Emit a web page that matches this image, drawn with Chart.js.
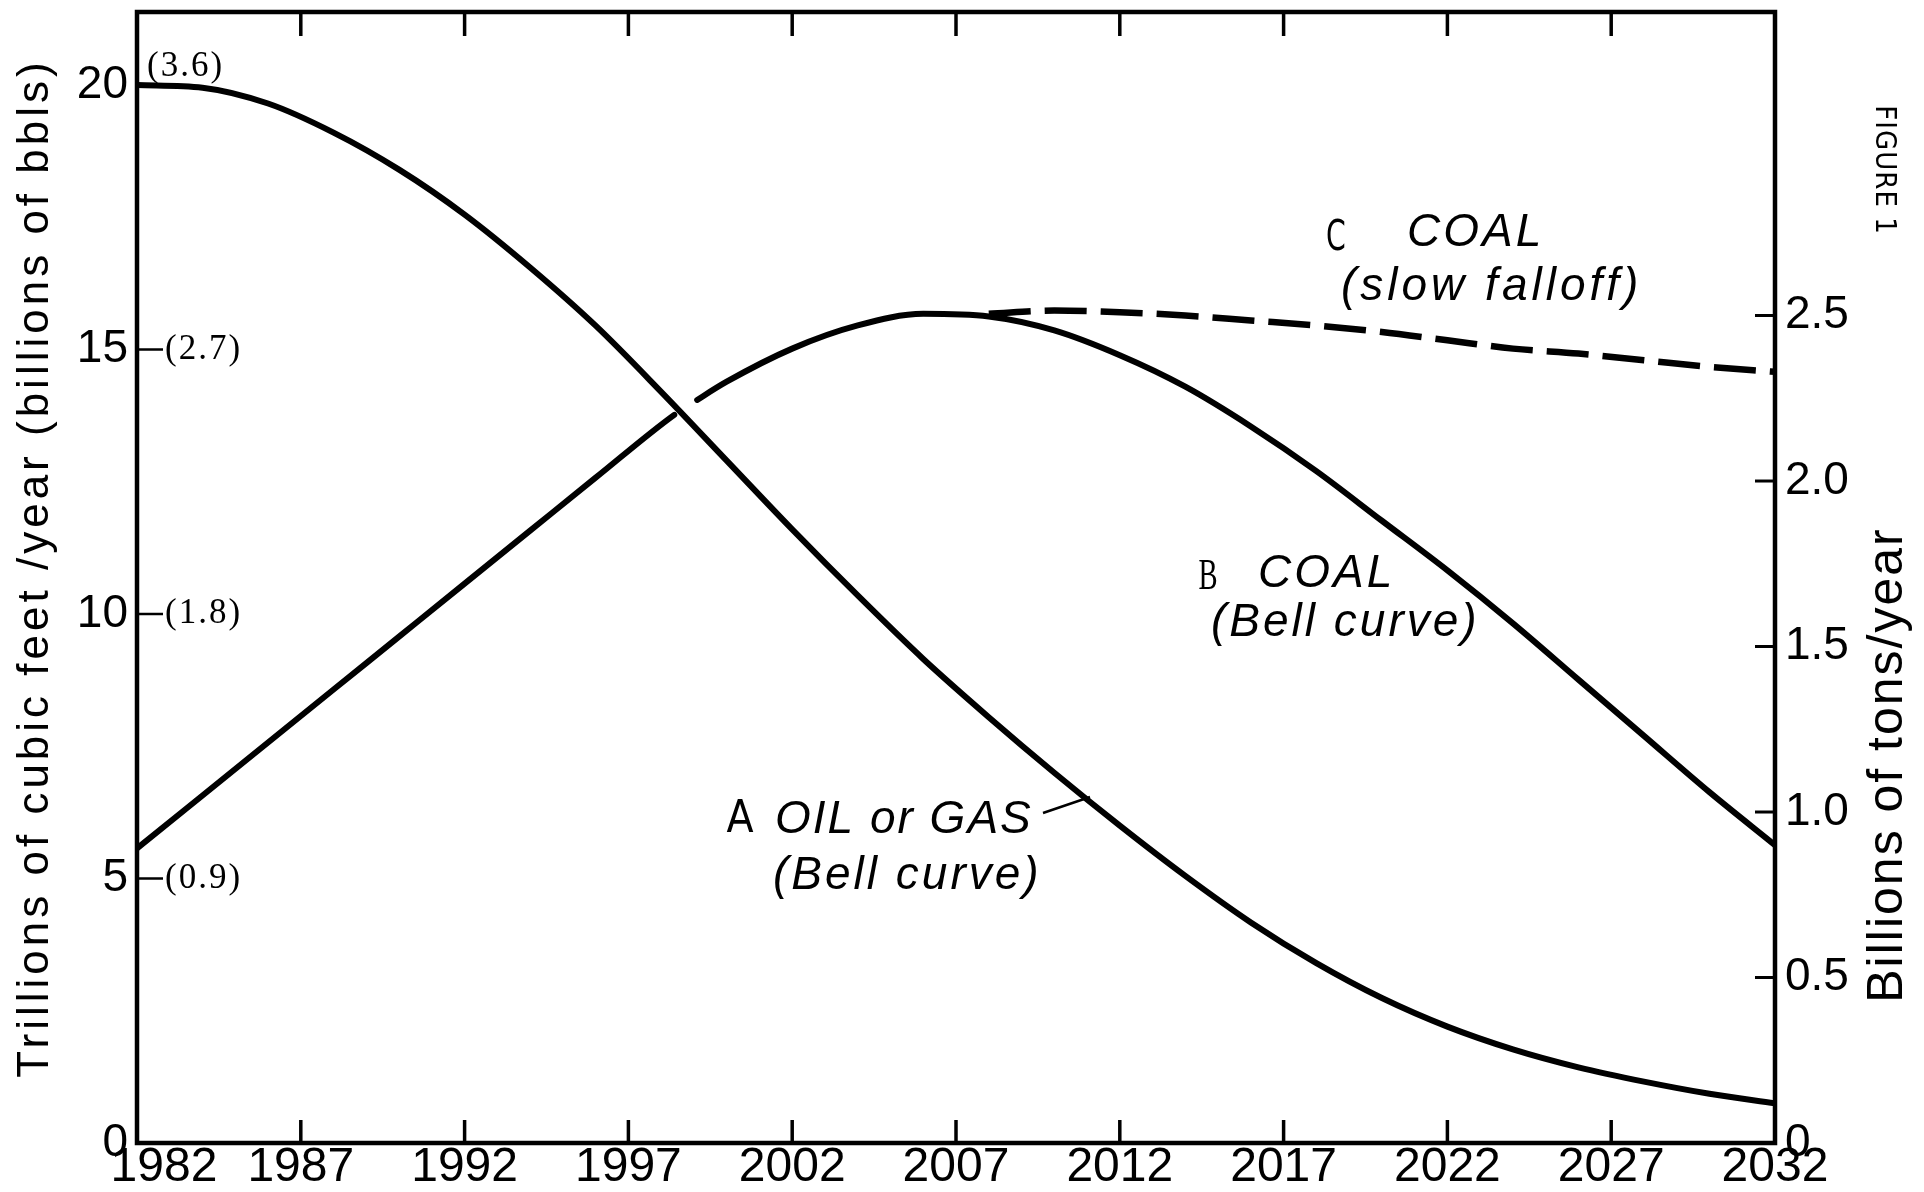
<!DOCTYPE html>
<html>
<head>
<meta charset="utf-8">
<script src="https://cdn.jsdelivr.net/npm/chart.js@4.4.0/dist/chart.umd.min.js"></script>
<style>
  html, body { margin: 0; padding: 0; background: #fff; }
  #wrap { width: 1924px; height: 1192px; position: relative; }
</style>
</head>
<body>
<div id="wrap"><canvas id="figure1"></canvas></div>
<script>
// axis ticks
const yearTicks = [1982, 1987, 1992, 1997, 2002, 2007, 2012, 2017, 2022, 2027, 2032];
const leftTicks = [0, 5, 10, 15, 20];
const rightTicks = [0, 0.5, 1.0, 1.5, 2.0, 2.5];
const bblTicks = [5, 10, 15, 20];
const bblLabels = ['(0.9)', '(1.8)', '(2.7)', '(3.6)'];

// A: oil or gas, trillions of cubic feet / year
const oilYears = [1982, 1984, 1986, 1988, 1990, 1992, 1994, 1996, 1998, 2000, 2002, 2004, 2006,
                  2008, 2010, 2012, 2014, 2016, 2018, 2020, 2022, 2024, 2026, 2028, 2030, 2032];
const oilValues = [20.0, 19.95, 19.65, 19.1, 18.4, 17.55, 16.55, 15.45, 14.2, 12.9, 11.6, 10.35, 9.15,
                   8.05, 7.0, 6.0, 5.05, 4.17, 3.4, 2.74, 2.2, 1.77, 1.43, 1.16, 0.93, 0.75];

// B: coal bell curve, billions of tons / year (line is broken where it passes under A)
const coalBellYears = [1982, 1984, 1986, 1988, 1990, 1992, 1994, 1996, 1998.4, 1999.1, 2000, 2002, 2004,
                       2006, 2008, 2010, 2012, 2014, 2016, 2018, 2020, 2022, 2024, 2026, 2028, 2030, 2032];
const coalBellValues = [0.89, 1.05, 1.21, 1.37, 1.53, 1.69, 1.85, 2.01, 2.20, 2.245, 2.30, 2.40, 2.47,
                        2.505, 2.497, 2.455, 2.38, 2.285, 2.165, 2.03, 1.88, 1.73, 1.57, 1.40, 1.23, 1.06, 0.90];
const coalGapStart = 1998.4;

// C: coal slow falloff
const coalSlowYears = [2008, 2010, 2012, 2014, 2016, 2018, 2020, 2022, 2024, 2026, 2028, 2030, 2032];
const coalSlowValues = [2.505, 2.515, 2.51, 2.50, 2.485, 2.47, 2.45, 2.425, 2.40, 2.385, 2.365, 2.345, 2.33];

const toPoints = (xs, ys) => xs.map((x, i) => ({ x: x, y: ys[i] }));

const SANS = "'Liberation Sans', Arial, sans-serif";
const SERIF = "'Liberation Serif', 'Times New Roman', serif";
const NARROW = "'Liberation Sans Narrow', 'DejaVu Sans Condensed', sans-serif";

function drawText(ctx, s, x, y, font, opts) {
    opts = opts || {};
    ctx.save();
    ctx.translate(x, y);
    if (opts.rot) ctx.rotate(opts.rot);
    if (opts.sx) ctx.scale(opts.sx, 1);
    ctx.font = font;
    ctx.letterSpacing = opts.ls || '0px';
    ctx.textAlign = opts.align || 'left';
    ctx.textBaseline = 'middle';
    ctx.fillStyle = '#000';
    ctx.fillText(s, 0, 0);
    ctx.restore();
}

function line(ctx, x1, y1, x2, y2, w) {
    ctx.beginPath();
    ctx.lineWidth = w;
    ctx.moveTo(x1, y1);
    ctx.lineTo(x2, y2);
    ctx.stroke();
}

// frame, inward ticks, labels and notes
const decor = {
    id: 'decor',
    afterDraw(chart) {
        const ctx = chart.ctx;
        const a = chart.chartArea;
        const x = chart.scales.x, yL = chart.scales.yL, yR = chart.scales.yR;
        ctx.save();
        ctx.strokeStyle = '#000';
        ctx.lineCap = 'butt';

        // frame
        ctx.lineWidth = 4.5;
        ctx.strokeRect(a.left, a.top, a.right - a.left, a.bottom - a.top);

        // year ticks top and bottom, year labels
        yearTicks.forEach((yr, i) => {
            const px = x.getPixelForValue(yr);
            if (i > 0 && i < yearTicks.length - 1) {
                line(ctx, px, a.bottom, px, a.bottom - 23, 3.5);
                line(ctx, px, a.top, px, a.top + 24, 3.5);
            }
            const shift = i === 0 ? 27 : 0;
            drawText(ctx, String(yr), px + shift, 1168, '48px ' + SANS, { align: 'center' });
        });

        // right axis inward ticks
        rightTicks.forEach(v => {
            if (v === 0) return;
            const py = yR.getPixelForValue(v);
            line(ctx, a.right, py, a.right - 20, py, 3);
        });

        // left axis: bbl equivalents
        bblTicks.forEach((v, i) => {
            const py = yL.getPixelForValue(v);
            if (v === 20) {
                drawText(ctx, bblLabels[i], 147, 67, '35px ' + SERIF, { ls: '2px' });
            } else {
                line(ctx, a.left, py, a.left + 26, py, 2.5);
                drawText(ctx, bblLabels[i], 165, py, '35px ' + SERIF, { ls: '2px' });
            }
        });

        // axis titles
        drawText(ctx, 'Trillions of cubic feet /year (billions of bbls)', 36, 568, '44px ' + SANS,
                 { rot: -Math.PI / 2, align: 'center', ls: '4px' });
        drawText(ctx, 'Billions of tons/year', 1888, 765, '50px ' + SANS,
                 { rot: -Math.PI / 2, align: 'center', ls: '2px' });
        drawText(ctx, 'FIGURE 1', 1884, 170, '29px ' + NARROW,
                 { rot: Math.PI / 2, align: 'center', ls: '1px' });

        // curve notes
        const it = 'italic 46px ' + SANS;
        drawText(ctx, 'A', 740, 821, '44px ' + NARROW, { align: 'center' });
        drawText(ctx, 'OIL or GAS', 775, 820, it, { ls: '2px' });
        drawText(ctx, '(Bell curve)', 773, 876, it, { ls: '3px' });
        line(ctx, 1043, 813, 1090, 797, 2.5);

        drawText(ctx, 'B', 1208, 577, '44px ' + SERIF, { align: 'center', sx: 0.65 });
        drawText(ctx, 'COAL', 1258, 574, it, { ls: '3px' });
        drawText(ctx, '(Bell curve)', 1211, 623, it, { ls: '3px' });

        drawText(ctx, 'C', 1336, 239, '42px ' + NARROW, { align: 'center', sx: 0.75 });
        drawText(ctx, 'COAL', 1407, 233, it, { ls: '3px' });
        drawText(ctx, '(slow falloff)', 1341, 287, it, { ls: '4px' });

        ctx.restore();
    }
};

// keep the plot box fixed: no extra room for half tick labels
const fixPad = s => { s.paddingTop = 0; s.paddingBottom = 0; s.paddingLeft = 0; s.paddingRight = 0; };

const ctx = document.getElementById('figure1').getContext('2d');
const figureChart = new Chart(ctx, {
    type: 'line',
    data: {
        datasets: [{
            label: 'A OIL or GAS (Bell curve)',
            data: toPoints(oilYears, oilValues),
            yAxisID: 'yL',
            borderColor: '#000',
            borderWidth: 6,
            pointRadius: 0,
            cubicInterpolationMode: 'monotone',
            borderCapStyle: 'round'
        }, {
            label: 'B COAL (Bell curve)',
            data: toPoints(coalBellYears, coalBellValues),
            yAxisID: 'yR',
            borderColor: '#000',
            borderWidth: 6,
            pointRadius: 0,
            cubicInterpolationMode: 'monotone',
            borderCapStyle: 'round',
            segment: {
                borderColor: c => c.p0.parsed.x === coalGapStart ? 'rgba(0,0,0,0)' : undefined
            }
        }, {
            label: 'C COAL (slow falloff)',
            data: toPoints(coalSlowYears, coalSlowValues),
            yAxisID: 'yR',
            borderColor: '#000',
            borderWidth: 6.5,
            borderDash: [42, 14],
            pointRadius: 0,
            cubicInterpolationMode: 'monotone'
        }]
    },
    options: {
        responsive: true,
        maintainAspectRatio: false,
        devicePixelRatio: 1,
        animation: false,
        layout: { padding: { top: 12, left: 0, right: 0, bottom: 0 } },
        plugins: {
            legend: { display: false },
            tooltip: { enabled: false }
        },
        scales: {
            x: {
                type: 'linear',
                min: 1982,
                max: 2032,
                grid: { display: false, drawTicks: false },
                border: { display: false },
                ticks: { display: false, stepSize: 5 },
                afterFit: s => { s.height = 49; fixPad(s); }
            },
            yL: {
                position: 'left',
                min: 0,
                max: 21.38,
                grid: { display: false, drawTicks: false },
                border: { display: false },
                afterBuildTicks: s => { s.ticks = leftTicks.map(v => ({ value: v })); },
                ticks: {
                    color: '#000',
                    padding: 9,
                    font: { family: SANS, size: 46 }
                },
                afterFit: s => { s.width = 137; fixPad(s); }
            },
            yR: {
                position: 'right',
                min: 0,
                max: 3.417,
                grid: { display: false, drawTicks: false },
                border: { display: false },
                afterBuildTicks: s => { s.ticks = rightTicks.map(v => ({ value: v })); },
                ticks: {
                    color: '#000',
                    padding: 10,
                    font: { family: SANS, size: 46 },
                    callback: v => v === 0 ? '0' : v.toFixed(1)
                },
                afterFit: s => { s.width = 149; fixPad(s); }
            }
        }
    },
    plugins: [decor]
});
</script>
</body>
</html>
